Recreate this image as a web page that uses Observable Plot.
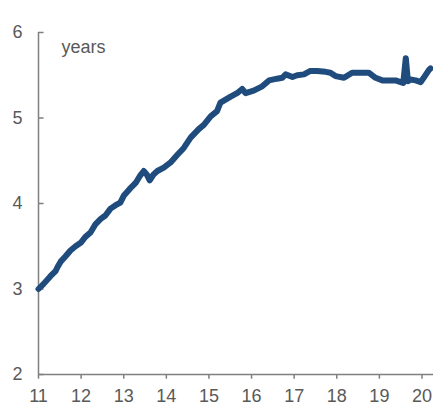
<!DOCTYPE html>
<html>
<head>
<meta charset="utf-8">
<script src="https://cdn.jsdelivr.net/npm/d3@7"></script>
<script src="https://cdn.jsdelivr.net/npm/@observablehq/plot@0.6"></script>
<style>
  html, body { margin: 0; padding: 0; background: #fff; }
  #chart svg { display: block; }
</style>
</head>
<body>
<div id="chart"></div>
<script>
// Decimal years (x axis shows two-digit years 11..20)
const dates = [
  2011.00, 2011.12, 2011.28, 2011.40, 2011.45, 2011.52, 2011.63, 2011.75, 2011.87, 2011.99,
  2012.10, 2012.22, 2012.34, 2012.46, 2012.57, 2012.69, 2012.81, 2012.92, 2013.00, 2013.14,
  2013.28, 2013.39, 2013.47, 2013.54, 2013.61, 2013.70, 2013.79, 2013.94, 2014.10, 2014.26,
  2014.41, 2014.57, 2014.76, 2014.88, 2015.04, 2015.19, 2015.27, 2015.51, 2015.66, 2015.78,
  2015.86, 2016.05, 2016.25, 2016.41, 2016.60, 2016.72, 2016.80, 2016.96, 2017.07, 2017.23,
  2017.38, 2017.54, 2017.74, 2017.85, 2017.97, 2018.17, 2018.36, 2018.48, 2018.60, 2018.75,
  2018.91, 2019.07, 2019.22, 2019.38, 2019.50, 2019.56, 2019.62, 2019.67, 2019.73, 2019.85,
  2019.97, 2020.04, 2020.16, 2020.20
];
const years = [
  3.00, 3.06, 3.15, 3.21, 3.26, 3.32, 3.38, 3.45, 3.50, 3.54,
  3.61, 3.66, 3.76, 3.82, 3.86, 3.94, 3.98, 4.01, 4.09, 4.17,
  4.24, 4.33, 4.38, 4.34, 4.27, 4.34, 4.38, 4.42, 4.48, 4.57,
  4.65, 4.77, 4.87, 4.92, 5.02, 5.08, 5.18, 5.25, 5.29, 5.34,
  5.29, 5.32, 5.37, 5.44, 5.46, 5.47, 5.51, 5.48, 5.50, 5.51,
  5.55, 5.55, 5.54, 5.53, 5.49, 5.47, 5.53, 5.53, 5.53, 5.53,
  5.47, 5.44, 5.44, 5.44, 5.42, 5.41, 5.70, 5.43, 5.45, 5.44,
  5.42, 5.47, 5.56, 5.58
];
const xTicks = [2011, 2012, 2013, 2014, 2015, 2016, 2017, 2018, 2019, 2020];
const xTickLabels = ["11", "12", "13", "14", "15", "16", "17", "18", "19", "20"];
const yTicks = [2, 3, 4, 5, 6];
const unitLabel = "years";

const data = dates.map((d, i) => ({date: d, value: years[i]}));

const gray = "#595959";
const axisGray = "#7f7f7f";
const xMin = 2011, yMin = 2;

const chart = Plot.plot({
  width: 433,
  height: 409,
  marginLeft: 38,
  marginRight: 0,
  marginTop: 32,
  marginBottom: 35,
  style: {fontFamily: "'Liberation Sans', Arial, sans-serif", background: "#fff"},
  x: {domain: [2011, 2020.27]},
  y: {domain: [2, 6]},
  marks: [
    Plot.axisY({ticks: yTicks, tickSize: 0, tickPadding: 16, fontSize: 18, color: gray, label: null, tickFormat: d => String(d)}),
    Plot.axisX({ticks: xTicks, tickSize: 0, tickPadding: 15, fontSize: 18, color: gray, label: null,
      tickFormat: d => xTickLabels[xTicks.indexOf(d)]}),
    // inward y ticks and outward x ticks
    Plot.ruleY(yTicks, {y: d => d, x1: () => xMin, x2: () => xMin + 0.13, stroke: axisGray, strokeWidth: 1.5}),
    Plot.ruleX(xTicks, {x: d => d, y1: () => yMin, y2: () => yMin - 0.055, stroke: axisGray, strokeWidth: 1.5}),
    Plot.ruleX([xMin], {stroke: axisGray, strokeWidth: 1.5}),
    Plot.ruleY([yMin], {stroke: axisGray, strokeWidth: 1.5}),
    Plot.text([unitLabel], {frameAnchor: "top-left", dx: 23, dy: 20, textAnchor: "start", lineAnchor: "bottom", fontSize: 18, fill: gray}),
    Plot.line(data, {x: "date", y: "value", stroke: "#1f4b7d", strokeWidth: 6, strokeLinecap: "round", strokeLinejoin: "round"})
  ]
});
document.getElementById("chart").append(chart);
</script>
</body>
</html>
